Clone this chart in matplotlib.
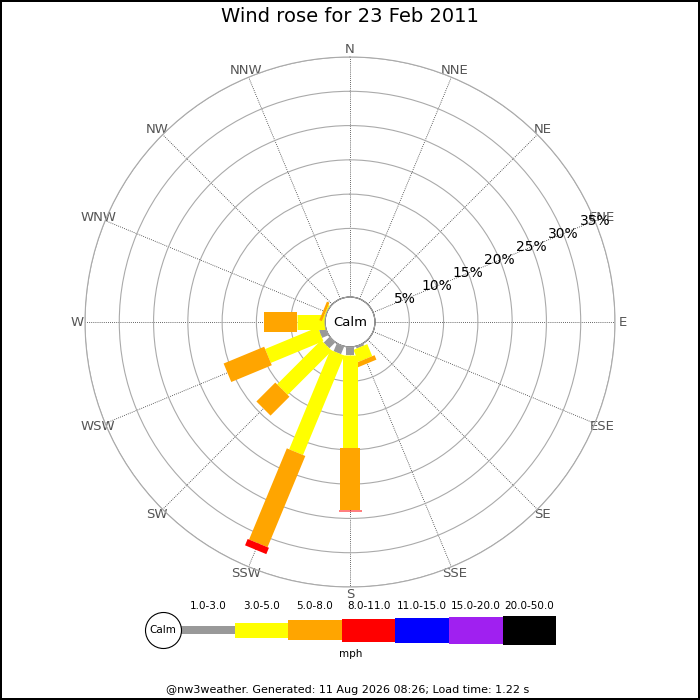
import numpy as np
import matplotlib
matplotlib.use("Agg")
import matplotlib.pyplot as plt

# wind rose data: % of time per direction, split by speed bin (mph)
directions = ['N', 'NNE', 'NE', 'ENE', 'E', 'ESE', 'SE', 'SSE',
              'S', 'SSW', 'SW', 'WSW', 'W', 'WNW', 'NW', 'NNW']
speed_bins = ['1.0-3.0', '3.0-5.0', '5.0-8.0', '8.0-11.0',
              '11.0-15.0', '15.0-20.0', '20.0-50.0']
pct_1_3 = [0, 0, 0, 0, 0, 0, 0, 0.3, 1.2, 1.2, 1.2, 1.0, 0, 0, 0, 0]
pct_3_5 = [0, 0, 0, 0, 0, 0, 0, 1.9, 13.5, 15.7, 9.1, 8.3, 4.1, 0.2, 0, 0]
pct_5_8 = [0, 0, 0, 0, 0, 0, 0, 0.7, 9.1, 14.4, 3.9, 6.4, 4.8, 0.4, 0, 0]
pct_8_11 = [0, 0, 0, 0, 0, 0, 0, 0, 0.15, 1.0, 0, 0, 0, 0, 0, 0]
pct_11_15 = [0] * 16
pct_15_20 = [0] * 16
pct_20_50 = [0] * 16
ring_pcts = [5, 10, 15, 20, 25, 30, 35]

title = "Wind rose for 23 Feb 2011"
footer = "@nw3weather. Generated: 11 Aug 2026 08:26; Load time: 1.22 s"

colours = ['#999999', '#ffff00', '#ffa500', '#ff0000', '#0000ff', '#a020f0', '#000000']
bar_px = [8, 15, 20, 23, 25, 27, 29]  # bar thickness per speed bin, pixels
DPI = 100
PT = 72.0 / DPI

fig = plt.figure(figsize=(7, 7), dpi=DPI, edgecolor='black', linewidth=1.5)

# polar rose: centre at (350, 322) px, outer ring radius 265 px, calm hole 25 px
cx, cy, R, hole = 350, 322, 265, 25
ax = fig.add_axes([(cx - R) / 700, (700 - cy - R) / 700, 2 * R / 700, 2 * R / 700],
                  projection='polar')
ax.set_theta_zero_location('N')
ax.set_theta_direction(-1)
rmax = ring_pcts[-1]
ax.set_ylim(0, rmax)
ax.set_rorigin(-hole * rmax / (R - hole))

angles = np.arange(16) * 22.5
ax.set_xticks(np.deg2rad(angles))
ax.set_xticklabels(directions)
ax.tick_params(axis='x', colors='#555555', labelsize=9.5, pad=-5)
ax.set_yticks(ring_pcts)
ax.set_yticklabels([])
ax.xaxis.grid(True, color='#333333', lw=0.6, ls=(0, (1, 1.5)))
ax.yaxis.grid(True, color='#aaaaaa', lw=0.8, ls='-')
ax.spines['polar'].set_color('#aaaaaa')
ax.spines['polar'].set_linewidth(0.8)

all_bins = [pct_1_3, pct_3_5, pct_5_8, pct_8_11, pct_11_15, pct_15_20, pct_20_50]
for d in range(16):
    th = np.deg2rad(angles[d])
    bottom = 0.0
    for b, vals in enumerate(all_bins):
        v = vals[d]
        if v <= 0:
            continue
        ax.plot([th, th], [bottom, bottom + v], color=colours[b],
                lw=bar_px[b] * PT, solid_capstyle='butt', zorder=3)
        bottom += v

# calm circle edge and label
ring = np.linspace(0, 2 * np.pi, 200)
ax.plot(ring, np.zeros_like(ring), color='#aaaaaa', lw=0.8, zorder=4, clip_on=False)
ax.text(0.5, 0.5, 'Calm', transform=ax.transAxes, ha='center', va='center',
        fontsize=9.5, zorder=5)

# percentage labels along ENE spoke
for p in ring_pcts:
    ax.text(np.deg2rad(67.5), p, f'{p}%', ha='center', va='center',
            fontsize=10, color='black', zorder=5)

fig.text(0.5, 1 - 17 / 700, title, ha='center', va='center', fontsize=14)
fig.text(348 / 700, 1 - 690 / 700, footer, ha='center', va='center', fontsize=8)

# legend strip
seg_px = 53.6
x0_px = 181
xlo, xhi = -0.8, 7.1
lax = fig.add_axes([(x0_px + xlo * seg_px) / 700, 30 / 700,
                    (xhi - xlo) * seg_px / 700, 80 / 700])
lax.set_xlim(xlo, xhi)
lax.set_ylim(-40, 40)
lax.axis('off')
heights = np.array(bar_px, dtype=float)
lax.bar(np.arange(len(speed_bins)), heights, width=1, bottom=-heights / 2,
        align='edge', color=colours, linewidth=0)
calm_r = 18 / seg_px
lax.plot([-calm_r], [0], marker='o', ms=36 * PT, mfc='white', mec='black', mew=0.8)
lax.text(-calm_r, 0, 'Calm', ha='center', va='center', fontsize=7.5)
for i, lab in enumerate(speed_bins):
    lax.text(i + 0.5, 24, lab, ha='center', va='center', fontsize=7.5)
lax.text((len(speed_bins) - 2 * calm_r) / 2, -24, 'mph', ha='center', va='center',
         fontsize=7.5)

fig.savefig('out.png', dpi=DPI)
